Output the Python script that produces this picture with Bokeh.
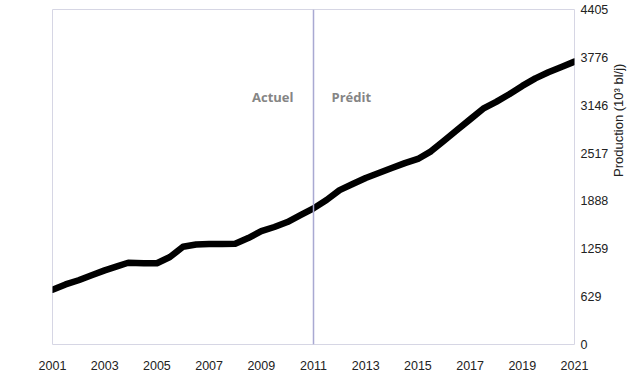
import math
from bokeh.plotting import figure
from bokeh.models import FixedTicker, Span, Label
from bokeh.embed import file_html
from bokeh.resources import INLINE

years = [2001.0, 2001.5, 2002.0, 2002.5, 2003.0, 2003.5, 2003.9, 2004.5, 2005.0, 2005.5,
         2006.0, 2006.5, 2007.0, 2007.5, 2008.0, 2008.5, 2009.0, 2009.5, 2010.0, 2010.5,
         2011.0, 2011.5, 2012.0, 2012.5, 2013.0, 2013.5, 2014.0, 2014.5, 2015.0, 2015.5,
         2016.0, 2016.5, 2017.0, 2017.5, 2018.0, 2018.5, 2019.0, 2019.5, 2020.0, 2020.5, 2021.0]
production = [720, 790, 845, 910, 975, 1030, 1075, 1070, 1068, 1150,
              1285, 1315, 1320, 1320, 1325, 1400, 1490, 1545, 1610, 1700,
              1790, 1900, 2030, 2110, 2190, 2255, 2320, 2385, 2440, 2540,
              2680, 2820, 2960, 3100, 3190, 3290, 3400, 3500, 3580, 3650, 3720]
y_ticks = [0, 629, 1259, 1888, 2517, 3146, 3776, 4405]
x_ticks = [2001, 2003, 2005, 2007, 2009, 2011, 2013, 2015, 2017, 2019, 2021]
split_year = 2011
label_actual = "Actuel"
label_predicted = "Prédit"
y_label = "Production (10³ bl/j)"

p = figure(width=636, height=372, output_backend="svg", toolbar_location=None,
           x_range=(2001, 2021), y_range=(0, 4405), y_axis_location="right",
           min_border_left=52, min_border_right=10, min_border_top=9, min_border_bottom=10)
p.background_fill_color = "white"
p.border_fill_color = "white"
p.outline_line_color = "#d6d6e4"
p.outline_line_width = 1
p.grid.visible = False

p.line(years, production, line_color="black", line_width=6.5, line_join="round", line_cap="round")

p.add_layout(Span(location=split_year, dimension="height", line_color="#a9a9d2", line_width=1.5))

p.add_layout(Label(x=split_year, y=3250, x_offset=-20, text=label_actual, text_align="right",
                   text_baseline="middle", text_font="Open Sans", text_font_style="bold",
                   text_font_size="13px", text_color="#858585"))
p.add_layout(Label(x=split_year, y=3250, x_offset=18, text=label_predicted, text_align="left",
                   text_baseline="middle", text_font="Open Sans", text_font_style="bold",
                   text_font_size="13px", text_color="#858585"))

for ax in p.xaxis:
    ax.ticker = FixedTicker(ticks=x_ticks)
    ax.axis_line_color = None
    ax.major_tick_line_color = None
    ax.minor_tick_line_color = None
    ax.major_label_text_font = "Liberation Sans"
    ax.major_label_text_font_size = "12.5px"
    ax.major_label_text_color = "#222222"
    ax.major_label_standoff = 10

for ax in p.yaxis:
    ax.ticker = FixedTicker(ticks=y_ticks)
    ax.axis_line_color = None
    ax.major_tick_line_color = None
    ax.minor_tick_line_color = None
    ax.major_tick_out = 0
    ax.major_tick_in = 0
    ax.minor_tick_out = 0
    ax.major_label_text_font = "Liberation Sans"
    ax.major_label_text_font_size = "12.5px"
    ax.major_label_text_color = "#222222"
    ax.major_label_standoff = 6
    ax.axis_label = y_label
    ax.axis_label_orientation = math.pi / 2
    ax.axis_label_text_align = "center"
    ax.axis_label_text_font = "Liberation Sans"
    ax.axis_label_text_font_size = "13px"
    ax.axis_label_text_font_style = "normal"
    ax.axis_label_text_color = "#222222"
    ax.axis_label_standoff = 7

open("out.html", "w").write(file_html(p, INLINE))
